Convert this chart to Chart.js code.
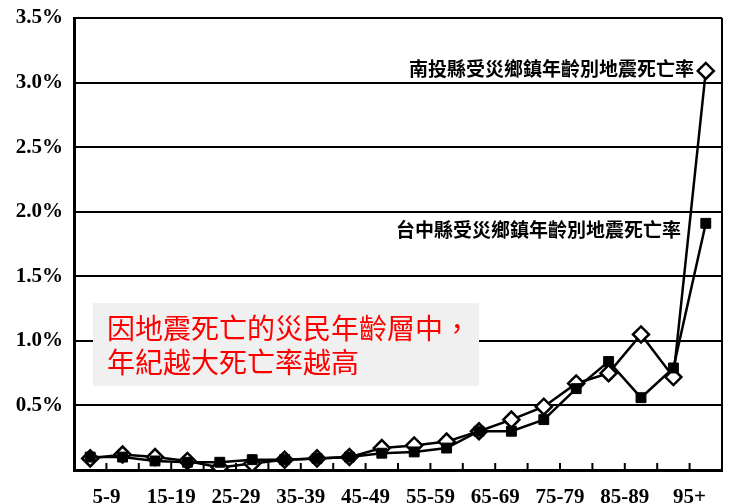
<!DOCTYPE html>
<html>
<head>
<meta charset="utf-8">
<script src="https://cdn.jsdelivr.net/npm/chart.js@4"></script>
<style>
  html, body { margin: 0; padding: 0; background: #fff; }
  #wrap { width: 733px; height: 504px; }
</style>
</head>
<body>
<div id="wrap"><canvas id="c" width="733" height="504"></canvas></div>
<script>
// Age groups (five-year bands)
const ageGroups = ['0-4','5-9','10-14','15-19','20-24','25-29','30-34','35-39','40-44','45-49',
                   '50-54','55-59','60-64','65-69','70-74','75-79','80-84','85-89','90-94','95+'];
// Earthquake death rate by age (%), Taichung County affected townships
const taichungRate = [0.10,0.10,0.07,0.06,0.06,0.08,0.08,0.09,0.10,0.13,
                      0.14,0.17,0.30,0.30,0.39,0.63,0.84,0.56,0.79,1.91];
// Earthquake death rate by age (%), Nantou County affected townships
const nantouRate   = [0.09,0.12,0.10,0.07,0.02,0.05,0.08,0.09,0.10,0.17,
                      0.19,0.22,0.30,0.39,0.49,0.67,0.75,1.05,0.72,3.09];
// Y axis ticks
const yTicks = [0.5,1.0,1.5,2.0,2.5,3.0,3.5];

const seriesNames = ['台中縣受災鄉鎮年齡別地震死亡率','南投縣受災鄉鎮年齡別地震死亡率'];
const noteLines = ['因地震死亡的災民年齡層中，','年紀越大死亡率越高'];

const serif = "'Liberation Serif', 'DejaVu Serif', serif";
const cjk = "'Noto Sans CJK TC', 'Noto Sans CJK SC', sans-serif";

// Frame, inner tick marks, series captions and the note box
const decorations = {
  id: 'decorations',
  afterDraw(chart) {
    const ctx = chart.ctx;
    const a = chart.chartArea;
    const x = chart.scales.x;
    ctx.save();
    // right edge of the frame
    ctx.strokeStyle = '#000';
    ctx.lineWidth = 2;
    ctx.beginPath();
    ctx.moveTo(a.right, a.top);
    ctx.lineTo(a.right, a.bottom);
    ctx.stroke();
    // small tick marks between categories, pointing inward
    const n = ageGroups.length;
    for (let i = 1; i < n; i++) {
      const px = (x.getPixelForValue(i - 1) + x.getPixelForValue(i)) / 2;
      ctx.beginPath();
      ctx.moveTo(px, a.bottom);
      ctx.lineTo(px, a.bottom - 7);
      ctx.stroke();
    }
    // series captions
    ctx.fillStyle = '#000';
    ctx.font = "bold 19px " + cjk;
    ctx.textAlign = 'right';
    ctx.textBaseline = 'middle';
    ctx.fillText(seriesNames[1], 694, 69);
    ctx.fillText(seriesNames[0], 681, 230);
    // note box
    ctx.fillStyle = '#f0f0f0';
    ctx.fillRect(93, 303, 386, 83);
    ctx.fillStyle = '#ff0000';
    ctx.font = "28px " + cjk;
    ctx.textAlign = 'left';
    ctx.fillText(noteLines[0], 107, 328);
    ctx.fillText(noteLines[1], 107, 362);
    ctx.restore();
  }
};

new Chart(document.getElementById('c'), {
  type: 'line',
  data: {
    labels: ageGroups,
    datasets: [
      {
        label: seriesNames[0],
        data: taichungRate,
        borderColor: '#000',
        borderWidth: 2.5,
        pointStyle: 'rect',
        pointRadius: 7,
        pointBackgroundColor: '#000',
        pointBorderColor: '#000',
        pointBorderWidth: 1,
        tension: 0
      },
      {
        label: seriesNames[1],
        data: nantouRate,
        borderColor: '#000',
        borderWidth: 2.5,
        pointStyle: 'rectRot',
        pointRadius: 8,
        pointBackgroundColor: '#fff',
        pointBorderColor: '#000',
        pointBorderWidth: 2.5,
        tension: 0
      }
    ]
  },
  options: {
    responsive: false,
    animation: false,
    devicePixelRatio: 1,
    layout: { padding: { left: 0, right: 11, top: 18, bottom: 0 } },
    plugins: {
      legend: { display: false },
      tooltip: { enabled: false }
    },
    scales: {
      x: {
        type: 'category',
        offset: true,
        grid: { display: false },
        border: { display: true, color: '#000', width: 3 },
        ticks: {
          autoSkip: false,
          maxRotation: 0,
          minRotation: 0,
          labelOffset: -16.2,
          padding: 7,
          color: '#000',
          font: { family: serif, size: 21, weight: 'bold' },
          callback: (v, i) => (i % 2 === 1 ? ageGroups[i] : '')
        },
        afterFit: (s) => { s.height = 34; s.paddingLeft = 0; s.paddingRight = 0; }
      },
      y: {
        min: 0,
        max: 3.5,
        grid: { color: '#000', lineWidth: 2, drawTicks: false },
        border: { display: true, color: '#000', width: 3 },
        afterBuildTicks: (s) => { s.ticks = [0].concat(yTicks).map(v => ({ value: v })); },
        ticks: {
          padding: 11,
          color: '#000',
          font: { family: serif, size: 21, weight: 'bold' },
          callback: (v) => (v === 0 ? '' : v.toFixed(1) + '%')
        },
        afterFit: (s) => { s.width = 74; s.paddingTop = 0; s.paddingBottom = 0; }
      }
    }
  },
  plugins: [decorations]
});
</script>
</body>
</html>
